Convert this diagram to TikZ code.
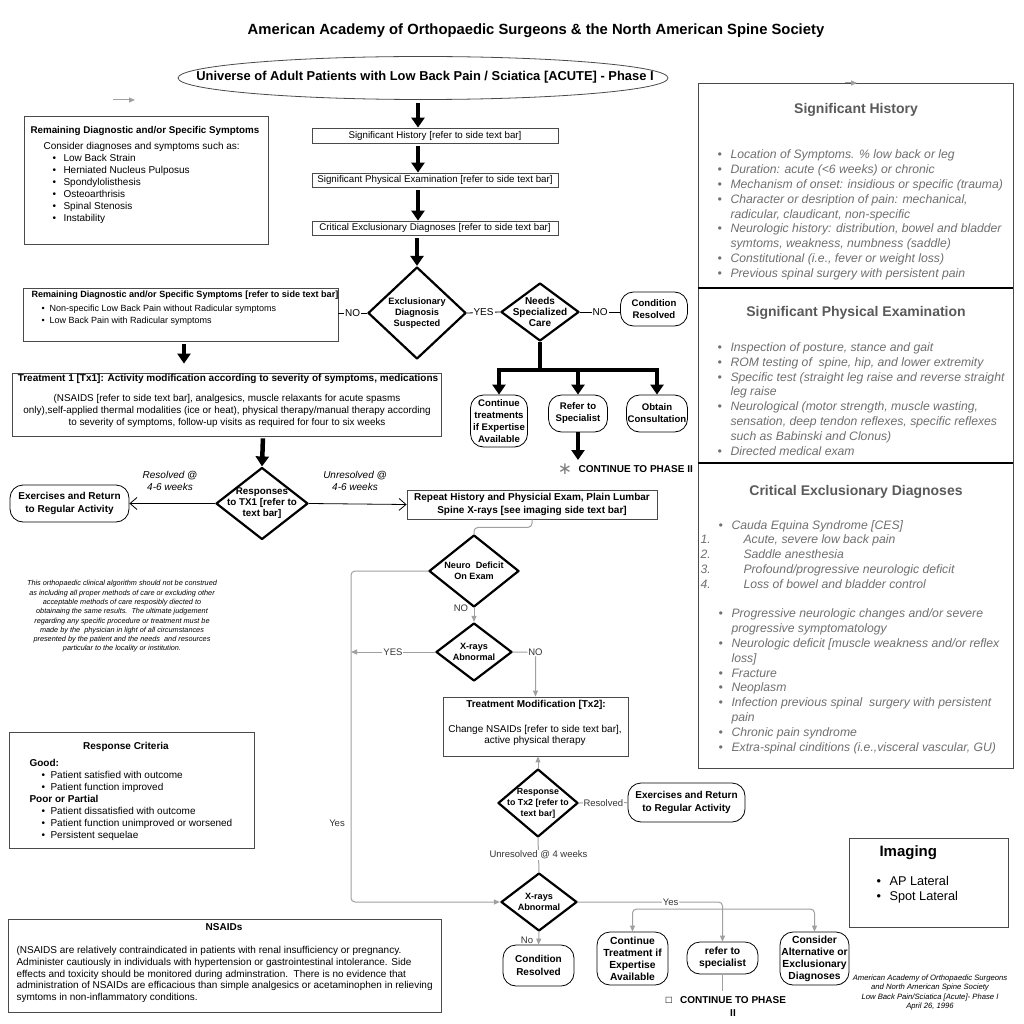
\documentclass[tikz,border=0pt]{standalone}
\usepackage{fontspec}
\setmainfont{Liberation Sans}
\newfontfamily\dejavu{DejaVu Sans}
\usetikzlibrary{arrows.meta,shapes.geometric,calc}
\definecolor{glinec}{HTML}{A0A0A0}
\definecolor{panelgray}{HTML}{707070}
\definecolor{headgray}{HTML}{5A5A5A}
\definecolor{bordergray}{HTML}{4A4A4A}
\newcommand\fsz[2]{\fontsize{#1}{#2}\selectfont}
\newcommand\pbul{\makebox[13pt][l]{•}}
\newcommand\pcont{\hspace*{13pt}}
\begin{document}
\begin{tikzpicture}[x=1pt,y=-1pt,
  box/.style={draw=bordergray, line width=0.8pt, rectangle, inner sep=0pt},
  rbox/.style={draw=black, line width=0.8pt, rectangle, rounded corners=13pt, inner sep=0pt, align=center, font=\bfseries\fsz{9.6}{12}},
  dia/.style={draw=black, line width=2.2pt, diamond, inner sep=0pt, line join=round},
  dtext/.style={align=center, font=\bfseries\fsz{9.1}{11}},
  thickarr/.style={line width=4.5pt, -{Triangle[length=10pt,width=13pt]}},
  thickln/.style={line width=4.5pt},
  blk/.style={draw=black, line width=0.8pt},
  gln/.style={draw=glinec, line width=1pt},
  garr/.style={gln, -{Triangle[length=6pt,width=5pt]}},
  lbl/.style={fill=white, inner sep=1pt, font=\fsz{10}{12}},
  glbl/.style={fill=white, inner sep=1pt, font=\fsz{9.5}{11}, text=black!80},
  openarr/.style={blk, -{Straight Barb[length=7pt,width=12pt]}},
  ptext/.style={anchor=west, align=left, text=panelgray, font=\itshape\fsz{12.2}{14.8}},
  phead/.style={text=headgray, font=\bfseries\fsz{14}{16}}
]
\useasboundingbox (0,0) rectangle (1024,1024);
\fill[white] (0,0) rectangle (1024,1024);

% ---------- title and top ellipse
\node[font=\bfseries\fsz{14.8}{17}] (title) at (536,31) {American Academy of Orthopaedic Surgeons \& the North American Spine Society};
\node[ellipse, draw=bordergray, line width=0.8pt, minimum width=490, minimum height=43, inner sep=0pt] (ell) at (423,78) {};
\node[font=\bfseries\fsz{12.9}{15}] (ellt) at (425,77) {Universe of Adult Patients with Low Back Pain / Sciatica [ACUTE] - Phase I};

\coordinate (sa1) at (113,100); \coordinate (sa2) at (135,100);
\draw[garr] (sa1) -- (sa2);
\coordinate (sb1) at (845,83); \coordinate (sb2) at (857,83);

% ---------- central chain
\node[box, minimum width=246, minimum height=15, font=\fsz{9.75}{12}] (hist) at (435,135.5) {Significant History [refer to side text bar]};
\node[box, minimum width=246, minimum height=14, font=\fsz{9.75}{12}] (physx) at (435,180) {Significant Physical Examination [refer to side text bar]};
\node[box, minimum width=246, minimum height=14, font=\fsz{9.75}{12}] (crit) at (435,228) {Critical Exclusionary Diagnoses [refer to side text bar]};
\coordinate (ax) at (418,0);
\draw[thickarr, shorten <=3pt] (ell.south -| ax) -- (hist.north -| ax);
\draw[thickarr, shorten <=3pt] (hist.south -| ax) -- (physx.north -| ax);
\draw[thickarr, shorten <=3pt] (physx.south -| ax) -- (crit.north -| ax);

\node[dia, minimum width=98, minimum height=92] (ex) at (417,313) {};
\node[dtext, font=\bfseries\fsz{9.2}{11}] (ext) at (ex) {Exclusionary\\Diagnosis\\Suspected};
\draw[thickarr, shorten <=3pt] (crit.south -| ex.north) -- (ex.north);

% ---------- left box 1
\node[box, minimum width=244, minimum height=128] (rem1) at (146,180) {};
\node[anchor=west, font=\bfseries\fsz{9.8}{12}] (rem1t) at (27,131) {Remaining Diagnostic and/or Specific Symptoms};
\node[anchor=west, align=left, font=\fsz{10}{12}] (rem1b) at (40,183) {Consider diagnoses and symptoms such as:\\
\hspace*{9pt}\makebox[11pt][l]{•}Low Back Strain\\
\hspace*{9pt}\makebox[11pt][l]{•}Herniated Nucleus Pulposus\\
\hspace*{9pt}\makebox[11pt][l]{•}Spondylolisthesis\\
\hspace*{9pt}\makebox[11pt][l]{•}Osteoarthrisis\\
\hspace*{9pt}\makebox[11pt][l]{•}Spinal Stenosis\\
\hspace*{9pt}\makebox[11pt][l]{•}Instability};

% ---------- left box 2
\node[box, minimum width=315, minimum height=53] (rem2) at (180.5,314.5) {};
\node[anchor=west, font=\bfseries\fsz{9.05}{12}] (rem2t) at (28,295) {Remaining Diagnostic and/or Specific Symptoms [refer to side text bar]};
\node[anchor=west, align=left, font=\fsz{9}{12}] (rem2b) at (38,315) {\makebox[8pt][l]{•}Non-specific Low Back Pain without Radicular symptoms\\\makebox[8pt][l]{•}Low Back Pain with Radicular symptoms};
\draw[blk] (rem2.east |- ex.west) -- node[lbl]{NO} (ex.west);

% ---------- specialized care
\node[dia, minimum width=78, minimum height=58] (spec) at (540,312) {};
\node[dtext, font=\bfseries\fsz{10}{11}] (spect) at (spec) {Needs\\Specialized\\Care};
\draw[blk] (ex.east) -- node[lbl]{YES} (spec.west);
\node[rbox, minimum width=67, minimum height=34] (cres) at (654,309) {Condition\\Resolved};
\draw[blk] (spec.east) -- node[lbl]{NO} (cres.west |- spec.east);

\coordinate (bar) at (540,370);
\node[rbox, minimum width=57, minimum height=52] (cont) at (499,421) {Continue\\treatments\\if Expertise\\Available};
\node[rbox, minimum width=59, minimum height=37] (refer) at (578,413.5) {Refer to\\Specialist};
\node[rbox, minimum width=61, minimum height=37] (cons) at (657,413.5) {Obtain\\Consultation};
\draw[thickln] (spec.south) -- (bar);
\draw[thickln, line cap=rect] (bar -| cont.north) -- (bar -| cons.north);
\draw[thickarr] (bar -| cont.north) -- (cont.north);
\draw[thickarr] (bar -| refer.north) -- (refer.north);
\draw[thickarr] (bar -| cons.north) -- (cons.north);
\coordinate (ph2) at (578,460);
\draw[thickarr] (refer.south) -- (ph2);
\node[font=\dejavu\fsz{17}{17}, text=gray] (star) at (565,469) {∗};
\node[anchor=west, font=\bfseries\fsz{10}{12}] (cph2) at (575,469) {CONTINUE TO PHASE II};

% ---------- treatment 1
\node[box, minimum width=429, minimum height=63] (tx1) at (226.5,404.5) {};
\node[font=\bfseries\fsz{10}{12}] (tx1t) at (228,379) {Treatment 1 [Tx1]: Activity modification according to severity of symptoms, medications};
\node[align=center, font=\fsz{9.9}{12}] (tx1b) at (227,411.3) {(NSAIDS [refer to side text bar], analgesics, muscle relaxants for acute spasms\\only),self-applied thermal modalities (ice or heat), physical therapy/manual therapy according\\to severity of symptoms, follow-up visits as required for four to six weeks};
\coordinate (ax2) at (184,0);
\draw[thickarr, shorten <=3pt, shorten >=9pt] (rem2.south -| ax2) -- (tx1.north -| ax2);

% ---------- responses to tx1
\node[dia, minimum width=92, minimum height=72] (resp1) at (262,503.5) {};
\node[dtext, font=\bfseries\fsz{9.8}{11}] (resp1t) at (resp1) {Responses\\to TX1 [refer to\\text bar]};
\coordinate (ax3) at (263,0);
\draw[thickarr, shorten <=2pt] (tx1.south -| ax3) -- (resp1.north);
\node[rbox, minimum width=119, minimum height=37, font=\bfseries\fsz{10}{12.5}] (ex1) at (69.5,503.5) {Exercises and Return\\to Regular Activity};
\node[box, minimum width=250, minimum height=29, align=center, font=\bfseries\fsz{10}{13}] (repeat) at (532,504.5) {Repeat History and Physicial Exam, Plain Lumbar\\Spine X-rays [see imaging side text bar]};
\draw[openarr] (resp1.west) -- (ex1.east);
\draw[openarr] (resp1.east) -- (repeat.west);
\node[align=center, font=\itshape\fsz{10}{12}] (resl) at (170,481) {Resolved @\\4-6 weeks};
\node[align=center, font=\itshape\fsz{10}{12}] (unresl) at (355,481) {Unresolved @\\4-6 weeks};

% ---------- disclaimer
\node[align=center, font=\itshape\fsz{7.3}{9.3}] (discl) at (122,616.5) {This orthopaedic clinical algorithm should not be construed\\as including all proper methods of care or excluding other\\acceptable methods of care resposibly diected to\\obtainaing the same results.\ \ The ultimate judgement\\regarding any specific procedure or treatment must be\\made by the\ \ physician in light of all circumstances\\presented by the patient and the needs\ \ and resources\\particular to the locality or institution.};

% ---------- neuro / x-rays / tx2
\node[dia, minimum width=90, minimum height=72] (neuro) at (474,571) {};
\node[dtext] (neurot) at (neuro) {Neuro\ \ Deficit\\On Exam};
\node[dia, minimum width=76, minimum height=58] (xr1) at (474,652) {};
\node[dtext] (xr1t) at (xr1) {X-rays\\Abnormal};
\node[box, minimum width=185, minimum height=59] (tx2) at (535.5,726.5) {};
\node[font=\bfseries\fsz{10}{12}] (tx2t) at (536,705) {Treatment Modification [Tx2]:};
\node[align=center, font=\fsz{10}{11}] (tx2b) at (535,735.5) {Change NSAIDs [refer to side text bar],\\active physical therapy};
\node[dia, minimum width=80, minimum height=68] (resp2) at (538,803) {};
\node[dtext, font=\bfseries\fsz{8.8}{11}] (resp2t) at (resp2) {Response\\to Tx2 [refer to\\text bar]};
\node[rbox, minimum width=117, minimum height=39, font=\bfseries\fsz{10}{12.5}] (ex2) at (686.5,802.5) {Exercises and Return\\to Regular Activity};
\node[dia, minimum width=76, minimum height=58] (xr2) at (539,902) {};
\node[dtext] (xr2t) at (xr2) {X-rays\\Abnormal};
\node[rbox, minimum width=71, minimum height=41, font=\bfseries\fsz{10}{12.5}] (cres2) at (538.5,965.5) {Condition\\Resolved};
\node[rbox, minimum width=71, minimum height=53, font=\bfseries\fsz{10.3}{12}] (contt) at (632.5,958.5) {Continue\\Treatment if\\Expertise\\Available};
\node[rbox, minimum width=71, minimum height=32, font=\bfseries\fsz{10.3}{12}] (refsp) at (722.5,958) {refer to\\specialist};
\node[rbox, minimum width=69, minimum height=53, font=\bfseries\fsz{10.3}{12}] (consa) at (814.5,958.5) {Consider\\Alternative or\\Exclusionary\\Diagnoses};

\draw[gln, rounded corners=4pt] (repeat.south) -- ++(0,8) -| (neuro.north);
\coordinate (lft) at (351,0);
\draw[garr, rounded corners=4pt] (neuro.west) -- (neuro.west -| lft) -- (xr2.west -| lft) -- (xr2.west);
\node[font=\fsz{9.5}{11}, text=black!80] (yesl) at (337,823) {Yes};
\draw[garr] (neuro.south) -- (xr1.north);
\node[font=\fsz{9.5}{11}, text=black!80] (nol) at (461,608) {NO};
\draw[garr] (xr1.west) -- node[glbl]{YES} (xr1.west -| lft);
\draw[garr, rounded corners=4pt] (xr1.east) -| node[glbl, pos=0.5]{NO} (tx2.north);
\draw[garr] (resp2.north) -- (resp2.north |- tx2.south);
\draw[gln] (resp2.east) -- node[glbl]{Resolved} (ex2.west);
\draw[gln] (resp2.south) -- node[glbl]{Unresolved @ 4 weeks} (xr2.north);
\draw[garr] (xr2.south) -- (cres2.north);
\node[font=\fsz{9.5}{11}, text=black!80] (nol2) at (527,940) {No};
\draw[garr, rounded corners=4pt] (xr2.east) -| node[glbl, pos=0.32]{Yes} (refsp.north);
\coordinate (br) at (0,909);
\draw[gln, {Triangle[length=6pt,width=5pt]}-{Triangle[length=6pt,width=5pt]}, rounded corners=4pt] (contt.north) -- (contt.north |- br) -- (consa.north |- br) -- (consa.north);
\coordinate (ph2b) at (722.5,991);
\draw[gln] (refsp.south) -- (ph2b);
\node[font=\dejavu\fsz{8}{8}] (sq) at (669,1000) {□};
\node[align=center, font=\bfseries\fsz{10}{13}] (cph2b) at (733,1006.5) {CONTINUE TO PHASE\\II};

% ---------- footer
\node[align=center, font=\itshape\fsz{7.7}{9.6}] (foot) at (930,992.5) {American Academy of Orthopaedic Surgeons\\and North American Spine Society\\Low Back Pain/Sciatica [Acute]- Phase I\\April 26, 1996};

% ---------- imaging
\node[box, minimum width=159, minimum height=89] (imag) at (928.5,882.5) {};
\node[anchor=west, font=\bfseries\fsz{15}{18}] (imagt) at (876,853) {Imaging};
\node[anchor=west, align=left, font=\fsz{12.7}{15}] (imagb) at (873,889.5) {\pbul AP Lateral\\\pbul Spot Lateral};

% ---------- response criteria
\node[box, minimum width=245, minimum height=116] (resc) at (131.5,790) {};
\node[font=\bfseries\fsz{10}{12}] (resct) at (126,747) {Response Criteria};
\node[anchor=west, align=left, font=\fsz{10}{12}] (rescb) at (26,800) {\textbf{Good:}\\
\hspace*{12pt}\makebox[9pt][l]{•}Patient satisfied with outcome\\
\hspace*{12pt}\makebox[9pt][l]{•}Patient function improved\\
\textbf{Poor or Partial}\\
\hspace*{12pt}\makebox[9pt][l]{•}Patient dissatisfied with outcome\\
\hspace*{12pt}\makebox[9pt][l]{•}Patient function unimproved or worsened\\
\hspace*{12pt}\makebox[9pt][l]{•}Persistent sequelae};

% ---------- NSAIDs
\node[box, minimum width=433, minimum height=93] (nsaid) at (224.5,965.5) {};
\node[font=\bfseries\fsz{10}{12}] (nsaidt) at (224,927) {NSAIDs};
\node[anchor=west, align=left, font=\fsz{10}{11.75}] (nsaidb) at (13,974.5) {(NSAIDS are relatively contraindicated in patients with renal insufficiency or pregnancy.\\Administer cautiously in individuals with hypertension or gastrointestinal intolerance. Side\\effects and toxicity should be monitored during adminstration.\ \ There is no evidence that\\administration of NSAIDs are efficacious than simple analgesics or acetaminophen in relieving\\symtoms in non-inflammatory conditions.};

% ---------- right panel
\node[box, minimum width=315, minimum height=205] (shbox) at (855.5,185.5) {};
\node[box, minimum width=315, minimum height=175] (pebox) at (855.5,375.5) {};
\node[box, minimum width=315, minimum height=305] (cebox) at (855.5,615.5) {};
\draw[line width=2pt] (shbox.south west) -- (shbox.south east);
\draw[line width=2pt] (pebox.south west) -- (pebox.south east);
\draw[garr] (sb1) -- (sb2);

\node[phead] (sht) at (856,110) {Significant History};
\node[ptext] (shb) at (714,215) {\pbul Location of Symptoms. \% low back or leg\\
\pbul Duration: acute (<6 weeks) or chronic\\
\pbul Mechanism of onset: insidious or specific (trauma)\\
\pbul Character or desription of pain: mechanical,\\
\pcont radicular, claudicant, non-specific\\
\pbul Neurologic history: distribution, bowel and bladder\\
\pcont symtoms, weakness, numbness (saddle)\\
\pbul Constitutional (i.e., fever or weight loss)\\
\pbul Previous spinal surgery with persistent pain};

\node[phead] (pet) at (856,313) {Significant Physical Examination};
\node[ptext] (peb) at (714,399) {\pbul Inspection of posture, stance and gait\\
\pbul ROM testing of\ \ spine, hip, and lower extremity\\
\pbul Specific test (straight leg raise and reverse straight\\
\pcont leg raise\\
\pbul Neurological (motor strength, muscle wasting,\\
\pcont sensation, deep tendon reflexes, specific reflexes\\
\pcont such as Babinski and Clonus)\\
\pbul Directed medical exam};

\node[phead] (cet) at (856,492) {Critical Exclusionary Diagnoses};
\node[ptext] (ceb) at (697,637) {\hspace*{18pt}\pbul Cauda Equina Syndrome [CES]\\
\makebox[43pt][l]{1.}Acute, severe low back pain\\
\makebox[43pt][l]{2.}Saddle anesthesia\\
\makebox[43pt][l]{3.}Profound/progressive neurologic deficit\\
\makebox[43pt][l]{4.}Loss of bowel and bladder control\\
\mbox{}\\
\hspace*{18pt}\pbul Progressive neurologic changes and/or severe\\
\hspace*{18pt}\pcont progressive symptomatology\\
\hspace*{18pt}\pbul Neurologic deficit [muscle weakness and/or reflex\\
\hspace*{18pt}\pcont loss]\\
\hspace*{18pt}\pbul Fracture\\
\hspace*{18pt}\pbul Neoplasm\\
\hspace*{18pt}\pbul Infection previous spinal\ \ surgery with persistent\\
\hspace*{18pt}\pcont pain\\
\hspace*{18pt}\pbul Chronic pain syndrome\\
\hspace*{18pt}\pbul Extra-spinal cinditions (i.e.,visceral vascular, GU)};
\end{tikzpicture}
\end{document}
